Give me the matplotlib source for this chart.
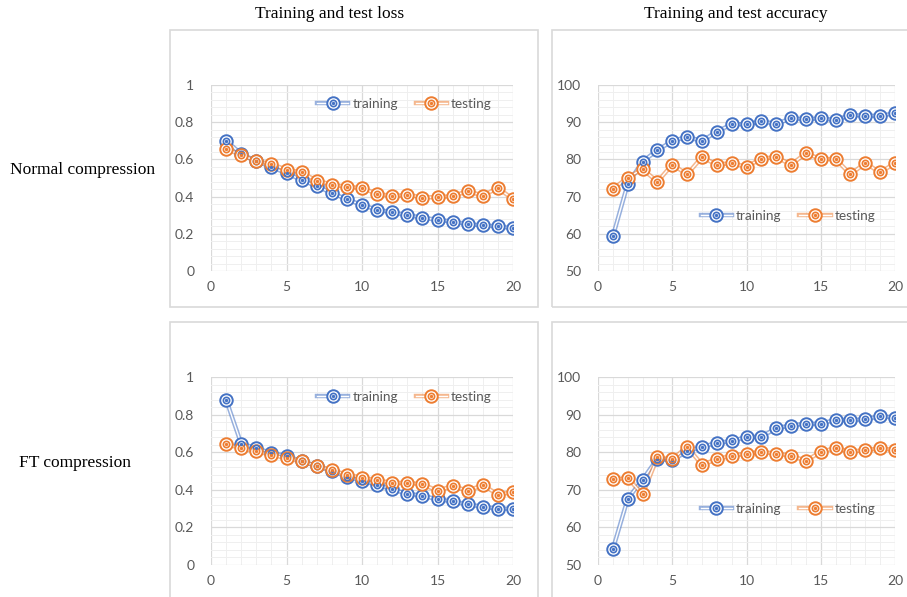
import matplotlib.pyplot as plt
from matplotlib.patches import Rectangle
from matplotlib.lines import Line2D
from matplotlib.legend_handler import HandlerTuple
from matplotlib.ticker import MultipleLocator

# epochs
epochs = list(range(1, 21))

# Normal compression
loss_train_normal = [0.70, 0.63, 0.59, 0.56, 0.525, 0.49, 0.455, 0.42, 0.385, 0.355,
                     0.33, 0.315, 0.30, 0.287, 0.275, 0.266, 0.252, 0.245, 0.24, 0.23]
loss_test_normal = [0.655, 0.625, 0.59, 0.575, 0.545, 0.53, 0.485, 0.465, 0.452, 0.447,
                    0.415, 0.402, 0.41, 0.395, 0.398, 0.402, 0.43, 0.405, 0.447, 0.386]
acc_train_normal = [59.3, 73.4, 79.4, 82.5, 84.9, 86.1, 84.9, 87.5, 89.4, 89.5,
                    90.2, 89.6, 91.0, 90.9, 91.0, 90.6, 91.9, 91.8, 91.7, 92.4]
acc_test_normal = [72.0, 75.1, 77.4, 74.0, 78.6, 76.0, 80.6, 78.6, 79.0, 78.0,
                   80.2, 80.6, 78.6, 81.6, 80.1, 80.1, 76.0, 79.0, 76.5, 79.0]

# FT compression
loss_train_ft = [0.88, 0.645, 0.622, 0.595, 0.58, 0.552, 0.527, 0.50, 0.47, 0.448,
                 0.427, 0.402, 0.38, 0.368, 0.35, 0.338, 0.322, 0.31, 0.30, 0.30]
loss_test_ft = [0.645, 0.62, 0.605, 0.587, 0.567, 0.552, 0.527, 0.505, 0.48, 0.465,
                0.45, 0.437, 0.437, 0.43, 0.395, 0.42, 0.395, 0.425, 0.375, 0.387]
acc_train_ft = [54.2, 67.6, 72.7, 78.3, 77.8, 80.3, 81.4, 82.5, 82.9, 84.1,
                84.1, 86.4, 87.1, 87.6, 87.6, 88.6, 88.6, 88.7, 89.6, 89.2]
acc_test_ft = [72.8, 73.1, 68.8, 78.6, 78.1, 81.4, 76.7, 78.1, 79.1, 79.6,
               80.1, 79.6, 79.1, 77.7, 80.1, 81.1, 80.1, 80.6, 81.0, 80.6]

col_titles = ['Training and test loss', 'Training and test accuracy']
row_titles = ['Normal compression', 'FT compression']

BLUE = '#4472C4'
ORANGE = '#ED7D31'
GRAY = '#595959'
W, H = 907, 597

plt.rcParams['font.family'] = ['Lato', 'DejaVu Sans']
fig = plt.figure(figsize=(W / 100, H / 100), dpi=100)


def px_rect(x0, x1, ytop, ybot):
    return [x0 / W, 1 - ybot / H, (x1 - x0) / W, (ybot - ytop) / H]


# panel borders (Excel chart areas)
for (x0, x1, y0, y1) in [(170, 538, 30, 307), (552, 912, 30, 307),
                         (170, 538, 322, 602), (552, 912, 322, 602)]:
    fig.patches.append(Rectangle((x0 / W, 1 - y1 / H), (x1 - x0) / W, (y1 - y0) / H,
                                 transform=fig.transFigure, fill=False,
                                 edgecolor='#D9D9D9', linewidth=1.2, zorder=0))


def draw_series(ax, y, color):
    ax.plot(epochs, y, color=color, lw=3.2, alpha=0.55, zorder=3)
    ax.plot(epochs, y, color='white', lw=1.0, zorder=3)
    ax.plot(epochs, y, ls='none', marker='o', ms=9, mfc='white', mec=color, mew=1.4, zorder=4)
    ax.plot(epochs, y, ls='none', marker='o', ms=4.5, mfc='white', mec=color, mew=1.2, zorder=5)
    ax.plot(epochs, y, ls='none', marker='o', ms=1.4, mfc=color, mec=color, zorder=6)


def legend_handle(color):
    return (Line2D([], [], color=color, lw=3.2, alpha=0.55),
            Line2D([], [], color='white', lw=1.0),
            Line2D([], [], ls='none', marker='o', ms=9, mfc='white', mec=color, mew=1.4),
            Line2D([], [], ls='none', marker='o', ms=4.5, mfc='white', mec=color, mew=1.2),
            Line2D([], [], ls='none', marker='o', ms=1.4, mfc=color, mec=color))


def setup(ax, ylim, major, minor, legend_y):
    ax.set_xlim(0, 20)
    ax.set_ylim(*ylim)
    ax.xaxis.set_major_locator(MultipleLocator(5))
    ax.xaxis.set_minor_locator(MultipleLocator(1))
    ax.yaxis.set_major_locator(MultipleLocator(major))
    ax.yaxis.set_minor_locator(MultipleLocator(minor))
    ax.grid(which='major', color='#D9D9D9', lw=0.9)
    ax.grid(which='minor', color='#EFEFEF', lw=0.7)
    ax.set_axisbelow(True)
    for s in ax.spines.values():
        s.set_visible(False)
    ax.tick_params(which='both', length=0, colors=GRAY, labelsize=10)
    ax.tick_params(axis='y', pad=12)
    ax.tick_params(axis='x', pad=7)
    ax.yaxis.set_major_formatter(plt.FuncFormatter(lambda v, p: '%g' % round(v, 2)))
    ax.legend([legend_handle(BLUE), legend_handle(ORANGE)], ['training', 'testing'],
              handler_map={tuple: HandlerTuple(ndivide=1, pad=0)},
              loc='center', bbox_to_anchor=(0.64, legend_y), ncol=2, frameon=False,
              fontsize=9.8, labelcolor=GRAY, handlelength=2.3, handletextpad=0.3,
              columnspacing=1.3)


rows = [(loss_train_normal, loss_test_normal, acc_train_normal, acc_test_normal),
        (loss_train_ft, loss_test_ft, acc_train_ft, acc_test_ft)]
tops = [(85, 271), (377, 565)]
loss_leg = [0.9, 0.895]
acc_leg = [0.296, 0.298]

for r, (lt, lv, at, av) in enumerate(rows):
    ytop, ybot = tops[r]
    ax1 = fig.add_axes(px_rect(211, 513, ytop, ybot))
    draw_series(ax1, lt, BLUE)
    draw_series(ax1, lv, ORANGE)
    setup(ax1, (0, 1), 0.2, 0.04, loss_leg[r])

    ax2 = fig.add_axes(px_rect(598, 895, ytop, ybot))
    draw_series(ax2, at, BLUE)
    draw_series(ax2, av, ORANGE)
    setup(ax2, (50, 100), 10, 2, acc_leg[r])

serif = ['Liberation Serif', 'DejaVu Serif']
fig.text(330 / W, 1 - 14 / H, col_titles[0], ha='center', va='center', family=serif, fontsize=12.5)
fig.text(736 / W, 1 - 14 / H, col_titles[1], ha='center', va='center', family=serif, fontsize=12.5)
fig.text(83 / W, 1 - 170 / H, row_titles[0], ha='center', va='center', family=serif, fontsize=12.5)
fig.text(75 / W, 1 - 463 / H, row_titles[1], ha='center', va='center', family=serif, fontsize=12.5)

fig.savefig('out.png', dpi=100)
